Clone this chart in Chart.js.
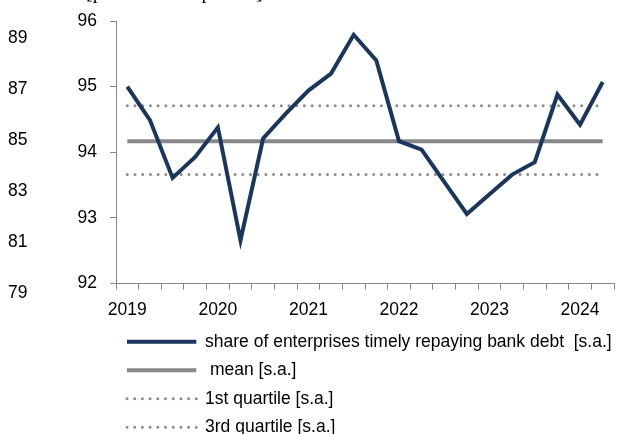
<!DOCTYPE html>
<html>
<head>
  <title>Share of enterprises timely repaying bank debt</title>
  <script src="https://cdn.jsdelivr.net/npm/chart.js"></script>
  <style>
    html, body { margin: 0; padding: 0; background: #fff; }
    #wrap { width: 625px; height: 434px; }
  </style>
</head>
<body>
  <div id="wrap"><canvas id="chart"></canvas></div>

  <script>
    // quarterly categories, 2019 Q1 - 2024 Q2
    const quarters = [
      '2019 Q1', '2019 Q2', '2019 Q3', '2019 Q4',
      '2020 Q1', '2020 Q2', '2020 Q3', '2020 Q4',
      '2021 Q1', '2021 Q2', '2021 Q3', '2021 Q4',
      '2022 Q1', '2022 Q2', '2022 Q3', '2022 Q4',
      '2023 Q1', '2023 Q2', '2023 Q3', '2023 Q4',
      '2024 Q1', '2024 Q2'
    ];
    // share of enterprises timely repaying bank debt [s.a.]
    const shareValues = [
      95.00, 94.49, 93.61, 93.93,
      94.38, 92.66, 94.21, 94.59,
      94.94, 95.20, 95.79, 95.40,
      94.17, 94.04, 93.55, 93.06,
      93.36, 93.66, 93.85, 94.88,
      94.42, 95.07
    ];
    const meanValue = 94.17;
    const q1Value = 93.66;
    const q3Value = 94.71;

    const innerTicks = [92, 93, 94, 95, 96];
    const outerTicks = [79, 81, 83, 85, 87, 89];

    const seriesNames = [
      'share of enterprises timely repaying bank debt  [s.a.]',
      ' mean [s.a.]',
      '1st quartile [s.a.]',
      '3rd quartile [s.a.]'
    ];

    const FONT = "'Liberation Sans', Arial, sans-serif";
    const SIZE = 17.5;
    const first = quarters[0];
    const last = quarters[quarters.length - 1];

    // cut-off heading above the plot
    const headingPlugin = {
      id: 'heading',
      afterDraw(chart) {
        const c = chart.ctx;
        c.save();
        c.font = "20px 'Liberation Serif', 'Times New Roman', serif";
        c.fillStyle = '#000';
        c.textBaseline = 'alphabetic';
        c.fillText('[percent of responses]', 86, -2);
        c.restore();
      }
    };

    const ctx = document.getElementById('chart').getContext('2d');
    const chart = new Chart(ctx, {
      type: 'line',
      data: {
        labels: quarters,
        datasets: [
          {
            label: seriesNames[0],
            data: shareValues,
            borderColor: '#1b365d',
            backgroundColor: '#1b365d',
            borderWidth: 4,
            borderJoinStyle: 'miter',
            pointRadius: 0,
            tension: 0,
            yAxisID: 'y',
            order: 0
          },
          {
            // trailing spaces keep each legend entry on its own row
            label: seriesNames[1] + ' '.repeat(40),
            data: [{ x: first, y: meanValue }, { x: last, y: meanValue }],
            borderColor: '#888888',
            backgroundColor: '#888888',
            borderWidth: 4,
            pointRadius: 0,
            yAxisID: 'y',
            order: 1
          },
          {
            label: seriesNames[2] + ' '.repeat(40),
            data: [{ x: first, y: q1Value }, { x: last, y: q1Value }],
            borderColor: '#8c8c8c',
            backgroundColor: 'transparent',
            borderWidth: 3,
            borderDash: [0, 7.7],
            borderCapStyle: 'round',
            pointRadius: 0,
            yAxisID: 'y',
            order: 2
          },
          {
            label: seriesNames[3],
            data: [{ x: first, y: q3Value }, { x: last, y: q3Value }],
            borderColor: '#8c8c8c',
            backgroundColor: 'transparent',
            borderWidth: 3,
            borderDash: [0, 7.7],
            borderCapStyle: 'round',
            pointRadius: 0,
            yAxisID: 'y',
            order: 3
          }
        ]
      },
      options: {
        responsive: true,
        maintainAspectRatio: false,
        animation: false,
        layout: {
          padding: { top: 21, right: 11, left: 8, bottom: -12 }
        },
        plugins: {
          tooltip: { enabled: false },
          legend: {
            position: 'bottom',
            align: 'start',
            fullSize: false,
            labels: {
              boxWidth: 69.3,
              boxHeight: 0,
              padding: 11,
              color: '#000',
              font: { family: FONT, size: SIZE }
            }
          }
        },
        scales: {
          x: {
            type: 'category',
            offset: true,
            afterFit: (scale) => { scale.height = scale.height - 8.6; },
            grid: {
              offset: true,
              drawOnChartArea: false,
              drawTicks: true,
              tickLength: 6,
              color: '#888'
            },
            border: { color: '#888', width: 1 },
            ticks: {
              autoSkip: false,
              maxRotation: 0,
              padding: 10,
              color: '#000',
              font: { family: FONT, size: SIZE },
              callback: function (value) {
                const q = quarters[value];
                return q.endsWith('Q1') ? q.slice(0, 4) : '';
              }
            }
          },
          y: {
            position: 'left',
            weight: 0,
            min: 92,
            max: 96,
            afterBuildTicks: (scale) => {
              scale.ticks = innerTicks.map(v => ({ value: v }));
            },
            afterFit: (scale) => {
              scale.width = 38;
              scale.paddingTop = 0;
              scale.paddingBottom = 0;
            },
            grid: {
              drawOnChartArea: false,
              drawTicks: true,
              tickLength: 6,
              color: '#888'
            },
            border: { color: '#888', width: 1 },
            ticks: {
              padding: 13,
              color: '#000',
              font: { family: FONT, size: SIZE }
            }
          },
          yOuter: {
            position: 'left',
            weight: 1,
            min: 79.39,
            max: 89.66,
            afterBuildTicks: (scale) => {
              scale.ticks = outerTicks.map(v => ({ value: v }));
            },
            afterFit: (scale) => {
              scale.width = 70;
              scale.paddingTop = 0;
              scale.paddingBottom = 0;
            },
            grid: { display: false, drawTicks: false },
            border: { display: false },
            ticks: {
              padding: 0,
              crossAlign: 'far',
              color: '#000',
              font: { family: FONT, size: SIZE }
            }
          }
        }
      },
      plugins: [headingPlugin]
    });
  </script>
</body>
</html>
